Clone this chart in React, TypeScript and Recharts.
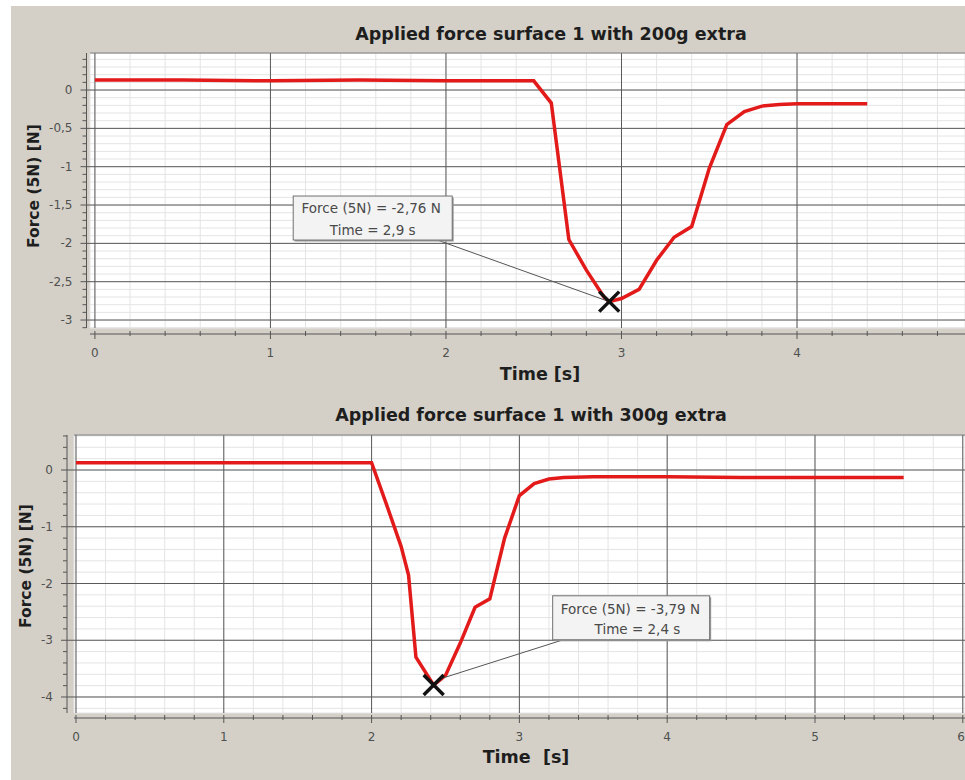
import React from 'react';
import { LineChart, Line, XAxis, YAxis, CartesianGrid, ReferenceLine, ReferenceDot } from 'recharts';

// ---------- data: 200 g extra ----------
const time200 = [0, 0.5, 1.0, 1.5, 2.0, 2.3, 2.5, 2.6, 2.7, 2.8, 2.9, 2.93, 3.0, 3.1, 3.2, 3.3, 3.4, 3.5, 3.6, 3.7, 3.8, 3.9, 4.0, 4.2, 4.4];
const force200 = [0.13, 0.13, 0.12, 0.13, 0.12, 0.12, 0.12, -0.17, -1.95, -2.35, -2.7, -2.76, -2.72, -2.6, -2.22, -1.92, -1.78, -1.02, -0.45, -0.28, -0.21, -0.19, -0.18, -0.18, -0.18];
const peak200 = { t: 2.93, f: -2.76, forceText: 'Force (5N) = -2,76 N', timeText: 'Time = 2,9 s' };

// ---------- data: 300 g extra ----------
const time300 = [0, 0.5, 1.0, 1.5, 2.0, 2.1, 2.2, 2.25, 2.3, 2.42, 2.5, 2.6, 2.7, 2.8, 2.9, 3.0, 3.1, 3.2, 3.3, 3.5, 4.0, 4.5, 5.0, 5.6];
const force300 = [0.13, 0.13, 0.13, 0.13, 0.13, -0.6, -1.35, -1.85, -3.3, -3.79, -3.62, -3.05, -2.42, -2.27, -1.2, -0.45, -0.24, -0.16, -0.13, -0.12, -0.12, -0.13, -0.13, -0.13];
const peak300 = { t: 2.42, f: -3.79, forceText: 'Force (5N) = -3,79 N', timeText: 'Time = 2,4 s' };

// ---------- axes ----------
const title200 = 'Applied force surface 1 with 200g extra';
const title300 = 'Applied force surface 1 with 300g extra';
const xLabel200 = 'Time [s]';
const xLabel300 = 'Time  [s]';
const yLabel = 'Force (5N) [N]';

const xMajor200 = [0, 1, 2, 3, 4];
const yMajor200 = [0, -0.5, -1, -1.5, -2, -2.5, -3];
const xMajor300 = [0, 1, 2, 3, 4, 5, 6];
const yMajor300 = [0, -1, -2, -3, -4];

const xDomain200: [number, number] = [-0.028, 4.957];
const yDomain200: [number, number] = [-3.104, 0.483];
const xDomain300: [number, number] = [-0.0135, 6.015];
const yDomain300: [number, number] = [-4.282, 0.617];

const steps = (from: number, to: number, step: number) => {
  const out: number[] = [];
  const n = Math.round((to - from) / step);
  for (let i = 0; i <= n; i++) out.push(Math.round((from + i * step) * 100) / 100);
  return out;
};
const xMinor200 = steps(0, 4.8, 0.2);
const yMinor200 = steps(-3.1, 0.4, 0.1);
const xMinor300 = steps(0, 6, 0.2);
const yMinor300 = steps(-4.2, 0.6, 0.2);

const data200 = time200.map((t, i) => ({ t, f: force200[i] }));
const data300 = time300.map((t, i) => ({ t, f: force300[i] }));

const fmt = (v: number) => (Math.round(v * 10) / 10).toString().replace('.', ',');
const isIn = (list: number[], v: number) => list.some((m) => Math.abs(m - v) < 1e-6);

const TICK_FONT = 'DejaVu Sans, Verdana, sans-serif';
const AX = '#555';

const makeXTick = (majors: number[], off: number, labelDy: number, edgeValue?: number) => (props: any) => {
  const { x, y, payload } = props;
  const major = isIn(majors, payload.value);
  const atEdge = edgeValue !== undefined && Math.abs(payload.value - edgeValue) < 1e-6;
  return (
    <g>
      <line x1={x} x2={x} y1={y + off - 3} y2={y + off + (major ? 5 : 2)} stroke={AX} strokeWidth={1} />
      {major && (
        <text
          x={atEdge ? x + 2 : x}
          y={y + labelDy}
          textAnchor={atEdge ? 'end' : 'middle'}
          fontSize={12}
          fill="#505050"
          fontFamily={TICK_FONT}
        >
          {fmt(payload.value)}
        </text>
      )}
    </g>
  );
};

const makeYTick = (majors: number[], off: number, gap: number) => (props: any) => {
  const { x, y, payload } = props;
  const major = isIn(majors, payload.value);
  const ax = x - off;
  return (
    <g>
      <line x1={ax - (major ? 6 : 4)} x2={major ? x : ax} y1={y} y2={y} stroke={AX} strokeWidth={1} />
      {major && (
        <text x={ax - gap} y={y} dy={4} textAnchor="end" fontSize={12} fill="#505050" fontFamily={TICK_FONT}>
          {fmt(payload.value)}
        </text>
      )}
    </g>
  );
};

type CalloutGeom = {
  box: [number, number, number, number];
  l1: [number, number];
  l2: [number, number];
  lead: [number, number, number, number];
};

const makeCallout = (peak: typeof peak200, g: CalloutGeom) => (props: any) => {
  const { cx, cy } = props;
  const [bx, by, bw, bh] = g.box;
  const s = 10;
  return (
    <g>
      <line x1={cx + g.lead[0]} y1={cy + g.lead[1]} x2={cx + g.lead[2]} y2={cy + g.lead[3]} stroke="#555" strokeWidth={1} />
      <rect x={cx + bx + 1.5} y={cy + by + 1.5} width={bw} height={bh} fill="#9a9a9a" />
      <rect x={cx + bx} y={cy + by} width={bw} height={bh} fill="#f3f3f3" stroke="#707070" strokeWidth={1} />
      <text x={cx + g.l1[0]} y={cy + g.l1[1]} textAnchor="middle" fontSize={13.5} fill="#4a4a4a" fontFamily={TICK_FONT}>
        {peak.forceText}
      </text>
      <text x={cx + g.l2[0]} y={cy + g.l2[1]} textAnchor="middle" fontSize={13.5} fill="#4a4a4a" fontFamily={TICK_FONT}>
        {peak.timeText}
      </text>
      <line x1={cx - s} y1={cy - s} x2={cx + s} y2={cy + s} stroke="#111" strokeWidth={3.5} />
      <line x1={cx - s} y1={cy + s} x2={cx + s} y2={cy - s} stroke="#111" strokeWidth={3.5} />
    </g>
  );
};

const callout200 = makeCallout(peak200, {
  box: [-316, -105.6, 159, 44],
  l1: [-238, -88.5],
  l2: [-236.5, -66.8],
  lead: [-172, -61.6, 0, 0],
});
const callout300 = makeCallout(peak300, {
  box: [119, -89.3, 157, 44],
  l1: [196.8, -71.5],
  l2: [203.8, -51.5],
  lead: [129.6, -45.3, 9, -7],
});

const BOLD = 'DejaVu Sans, Verdana, sans-serif';

const Centered = ({ x, y, text, size, rotate }: { x: number; y: number; text: string; size: number; rotate?: boolean }) => (
  <div
    style={{
      position: 'absolute',
      left: x,
      top: y,
      transform: `translate(-50%, -50%)${rotate ? ' rotate(-90deg)' : ''}`,
      whiteSpace: 'pre',
      fontFamily: BOLD,
      fontWeight: 'bold',
      fontSize: size,
      lineHeight: `${size + 2}px`,
      color: '#1e1e1e',
    }}
  >
    {text}
  </div>
);

export default function App() {
  return (
    <div style={{ position: 'absolute', left: 0, top: 0, width: 965, height: 780, background: '#ffffff', overflow: 'hidden' }}>
      <div style={{ position: 'absolute', left: 11, top: 6, width: 954, height: 774, background: '#d4d0c8' }} />

      {/* chart 1 */}
      <div style={{ position: 'absolute', left: 0, top: 0 }}>
        <LineChart width={965} height={390} data={data200} margin={{ top: 53, right: 0, bottom: 0, left: 0 }}>
          <CartesianGrid stroke="#e4e4e4" fill="#ffffff" />
          <CartesianGrid stroke="#5a5a5a" fill="none" horizontalValues={yMajor200} verticalValues={xMajor200} />
          <XAxis
            dataKey="t"
            type="number"
            domain={xDomain200}
            allowDataOverflow
            ticks={xMinor200}
            interval={0}
            tickSize={0}
            tickMargin={0}
            height={62}
            tick={makeXTick(xMajor200, 6, 29)}
            axisLine={{ stroke: AX, transform: 'translate(0,6)' }}
          />
          <YAxis
            type="number"
            domain={yDomain200}
            allowDataOverflow
            ticks={yMinor200}
            interval={0}
            tickSize={0}
            tickMargin={0}
            width={90}
            tick={makeYTick(yMajor200, 3.5, 14)}
            axisLine={{ stroke: AX, transform: 'translate(-3.5,0)' }}
          />
          <ReferenceLine y={yDomain200[1]} stroke="#777" />
          <Line dataKey="f" type="linear" stroke="#e31a1a" strokeWidth={3.5} dot={false} isAnimationActive={false} />
          <ReferenceDot x={peak200.t} y={peak200.f} shape={callout200} />
        </LineChart>
      </div>

      {/* chart 2 */}
      <div style={{ position: 'absolute', left: 0, top: 390 }}>
        <LineChart width={965} height={390} data={data300} margin={{ top: 45, right: 0, bottom: 0, left: 0 }}>
          <CartesianGrid stroke="#e4e4e4" fill="#ffffff" />
          <CartesianGrid stroke="#5a5a5a" fill="none" horizontalValues={yMajor300} verticalValues={xMajor300} />
          <XAxis
            dataKey="t"
            type="number"
            domain={xDomain300}
            allowDataOverflow
            ticks={xMinor300}
            interval={0}
            tickSize={0}
            tickMargin={0}
            height={67}
            tick={makeXTick(xMajor300, 5, 28, 6)}
            axisLine={{ stroke: AX, transform: 'translate(0,5)' }}
          />
          <YAxis
            type="number"
            domain={yDomain300}
            allowDataOverflow
            ticks={yMinor300}
            interval={0}
            tickSize={0}
            tickMargin={0}
            width={74}
            tick={makeYTick(yMajor300, 7, 14)}
            axisLine={{ stroke: AX, transform: 'translate(-7,0)' }}
          />
          <ReferenceLine y={yDomain300[1]} stroke="#777" />
          <Line dataKey="f" type="linear" stroke="#e31a1a" strokeWidth={3.5} dot={false} isAnimationActive={false} />
          <ReferenceDot x={peak300.t} y={peak300.f} shape={callout300} />
        </LineChart>
      </div>

      <Centered x={551} y={35} text={title200} size={17.5} />
      <Centered x={540} y={375} text={xLabel200} size={17.5} />
      <Centered x={35} y={186} text={yLabel} size={15.5} rotate />

      <Centered x={531} y={416} text={title300} size={17.5} />
      <Centered x={526} y={758} text={xLabel300} size={17.5} />
      <Centered x={27} y={566} text={yLabel} size={15.5} rotate />
    </div>
  );
}
